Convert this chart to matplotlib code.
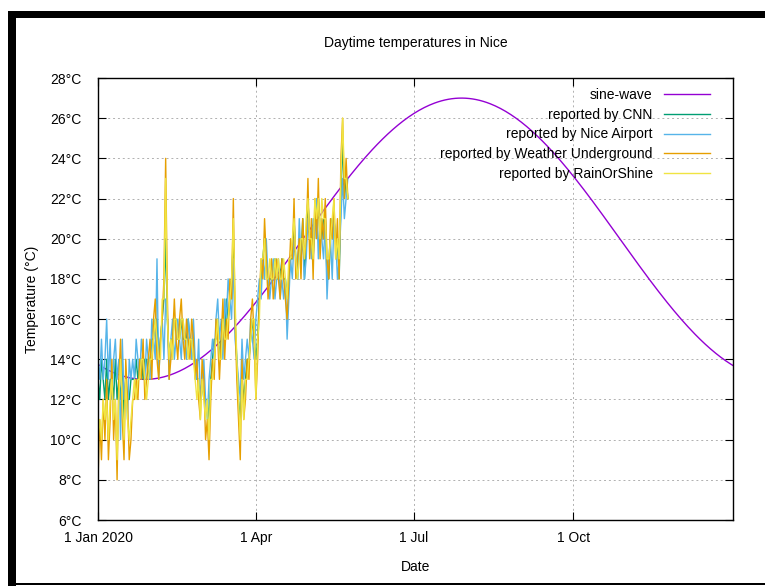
import numpy as np
import pandas as pd
import matplotlib
matplotlib.use('Agg')
import matplotlib.pyplot as plt
from matplotlib.patches import Rectangle

# ------------------------------------------------------------
# Data, daily values from 1 Jan 2020
# ------------------------------------------------------------

start = '2020-01-01'

cnn = [13, 12, 14, 13, 12, 14, 12, 13, 13, 12,
       14, 12, 13, 12, 14, 11, 13, 12, 12, 13,
       13, 13, 14, 13, 14, 14, 13, 14, 14, 13,
       14, 15, 15, 16, 16, 14, 15, 16, 17, 20,
       16, 14, 15, 15, 16, 16, 15, 15, 16, 15,
       15, 15, 16, 15, 15, 14, 14, 13, 13, 12,
       13, 12, 12, 12, 11, 13, 14, 15, 15, 16,
       14, 15, 16, 15, 17, 16, 17, 18, 20, 16,
       14, 12, 11, 13, 12, 13, 14, 14, 15, 16,
       15, 14, 15, 17, 18, 19, 20, 19, 18, 18,
       18, 18, 19, 18, 18, 18, 19, 18, 18, 17,
       18, 19, 19, 21, 19, 18, 20, 19, 21, 18,
       20, 22, 20, 20, 19, 21, 21, 22, 20, 20,
       21, 21, 18, 18, 20, 21, 21, 20, 20, 18,
       22, 25, 22, 23, 22]

nice_airport = [14, 13, 15, 13, 14, 16, 13, 15, 12, 14,
                15, 13, 14, 10, 15, 12, 13, 11, 14, 13,
                14, 13, 15, 14, 13, 15, 14, 13, 15, 14,
                13, 16, 15, 14, 19, 13, 15, 16, 14, 17,
                16, 13, 15, 16, 14, 15, 16, 15, 14, 16,
                15, 14, 16, 15, 14, 16, 14, 13, 15, 12,
                13, 14, 12, 11, 13, 14, 15, 14, 16, 17,
                15, 16, 14, 17, 16, 18, 17, 16, 19, 15,
                14, 13, 12, 15, 13, 14, 15, 14, 16, 15,
                14, 16, 17, 18, 17, 19, 18, 20, 18, 17,
                18, 19, 17, 18, 19, 17, 18, 17, 18, 15,
                17, 19, 18, 20, 19, 18, 21, 19, 20, 18,
                19, 21, 20, 19, 21, 20, 22, 19, 21, 20,
                19, 21, 17, 19, 20, 18, 21, 20, 18, 19,
                21, 23, 21, 22, 23]

weather_underground = [8, 11, 9, 12, 10, 13, 9, 11, 14, 10,
                       12, 8, 13, 15, 11, 9, 14, 12, 9, 10,
                       12, 12, 13, 12, 14, 13, 15, 12, 13, 14,
                       15, 13, 16, 17, 14, 13, 15, 16, 18, 24,
                       17, 13, 14, 15, 17, 15, 14, 16, 17, 15,
                       14, 16, 15, 14, 16, 15, 13, 14, 12, 11,
                       14, 13, 10, 11, 9, 12, 14, 13, 16, 15,
                       13, 15, 17, 14, 16, 15, 18, 17, 22, 16,
                       13, 11, 9, 14, 11, 12, 14, 13, 16, 17,
                       15, 12, 14, 17, 19, 18, 21, 19, 17, 18,
                       19, 17, 18, 19, 18, 17, 19, 18, 17, 16,
                       18, 20, 19, 22, 18, 19, 20, 18, 21, 19,
                       20, 23, 19, 21, 18, 22, 20, 23, 19, 21,
                       20, 22, 19, 18, 21, 20, 22, 19, 21, 18,
                       24, 26, 22, 24, 22]

rain_or_shine = [10, 11, 10, 12, 11, 12, 10, 12, 13, 11,
                 12, 9, 12, 14, 12, 10, 13, 11, 10, 11,
                 12, 13, 12, 13, 13, 14, 14, 13, 12, 13,
                 14, 14, 15, 16, 15, 14, 14, 17, 17, 23,
                 16, 14, 15, 14, 16, 16, 15, 15, 16, 16,
                 15, 15, 14, 15, 15, 14, 13, 12, 13, 11,
                 13, 12, 11, 12, 10, 13, 13, 14, 15, 16,
                 14, 14, 16, 15, 15, 16, 17, 18, 21, 17,
                 14, 12, 10, 13, 11, 13, 13, 14, 15, 16,
                 16, 12, 15, 16, 19, 19, 20, 18, 18, 19,
                 18, 18, 19, 18, 19, 18, 18, 19, 18, 17,
                 19, 19, 20, 21, 19, 18, 19, 20, 20, 19,
                 21, 22, 20, 20, 19, 22, 21, 22, 20, 22,
                 21, 21, 19, 19, 20, 21, 22, 19, 20, 19,
                 23, 26, 23, 23, 22]

# sine-wave model : mean, amplitude, day of minimum
sine_mean = 20.0
sine_amp = 7.0
sine_min_day = 27

labels = ['sine-wave', 'reported by CNN', 'reported by Nice Airport',
          'reported by Weather Underground', 'reported by RainOrShine']
colors = ['#9400d3', '#009e73', '#56b4e9', '#e69f00', '#f0e442']

tick_dates = ['2020-01-01', '2020-04-01', '2020-07-01', '2020-10-01']
tick_labels = ['1 Jan 2020', '1 Apr', '1 Jul', '1 Oct']
y_ticks = list(range(6, 29, 2))


def main():
    plt.rcParams['font.family'] = ['Liberation Sans', 'DejaVu Sans']
    plt.rcParams['font.size'] = 10

    fig = plt.figure(figsize=(7.65, 5.86), dpi=100)
    fig.patch.set_facecolor('white')
    ax = fig.add_axes([98 / 765, 1 - 520 / 586, 635 / 765, 442 / 586])

    days = pd.date_range(start, periods=len(cnn), freq='D')
    full_year = pd.date_range(start, '2021-01-01', freq='D')
    t = np.arange(len(full_year))
    sine = sine_mean - sine_amp * np.cos(2 * np.pi * (t - sine_min_day) / 365.0)

    ax.plot(full_year, sine, color=colors[0], lw=1.0, label=labels[0])
    series = [cnn, nice_airport, weather_underground, rain_or_shine]
    for s, lab, c in zip(series, labels[1:], colors[1:]):
        ax.plot(days, s, color=c, lw=1.0, label=lab)

    ax.set_xlim(pd.Timestamp('2020-01-01'), pd.Timestamp('2021-01-01'))
    ax.set_ylim(6, 28)
    ax.set_xticks([pd.Timestamp(d) for d in tick_dates])
    ax.set_xticklabels(tick_labels)
    ax.set_yticks(y_ticks)
    ax.set_yticklabels(['%d°C' % v for v in y_ticks])
    ax.tick_params(direction='in', length=6, width=0.8, top=True, right=True,
                   labelsize=10, pad=8, colors='black')
    ax.tick_params(axis='y', pad=12)
    ax.grid(True, color='#b0b0b0', lw=0.7, ls=(0, (2, 3)))
    for sp in ax.spines.values():
        sp.set_linewidth(1.0)

    ax.set_title('Daytime temperatures in Nice', fontsize=10, pad=22)
    ax.set_xlabel('Date', fontsize=10, labelpad=11)
    ax.set_ylabel('Temperature (°C)', fontsize=10, labelpad=8)

    ax.legend(loc='upper right', bbox_to_anchor=(0.972, 0.99), frameon=False,
              markerfirst=False, handlelength=3.3, handletextpad=0.8,
              labelspacing=0.41, fontsize=10, borderaxespad=0.0)

    # black screenshot frame
    W, H = 765.0, 586.0
    fig.add_artist(Rectangle((8 / W, 1 - 18 / H), 1, 7 / H, transform=fig.transFigure,
                             color='black', lw=0))
    fig.add_artist(Rectangle((8 / W, 0), 8 / W, 1 - 11 / H, transform=fig.transFigure,
                             color='black', lw=0))
    fig.add_artist(Rectangle((8 / W, 1 / H), 1, 2 / H, transform=fig.transFigure,
                             color='black', lw=0))

    fig.savefig('out.png', dpi=100)
    return

main()
